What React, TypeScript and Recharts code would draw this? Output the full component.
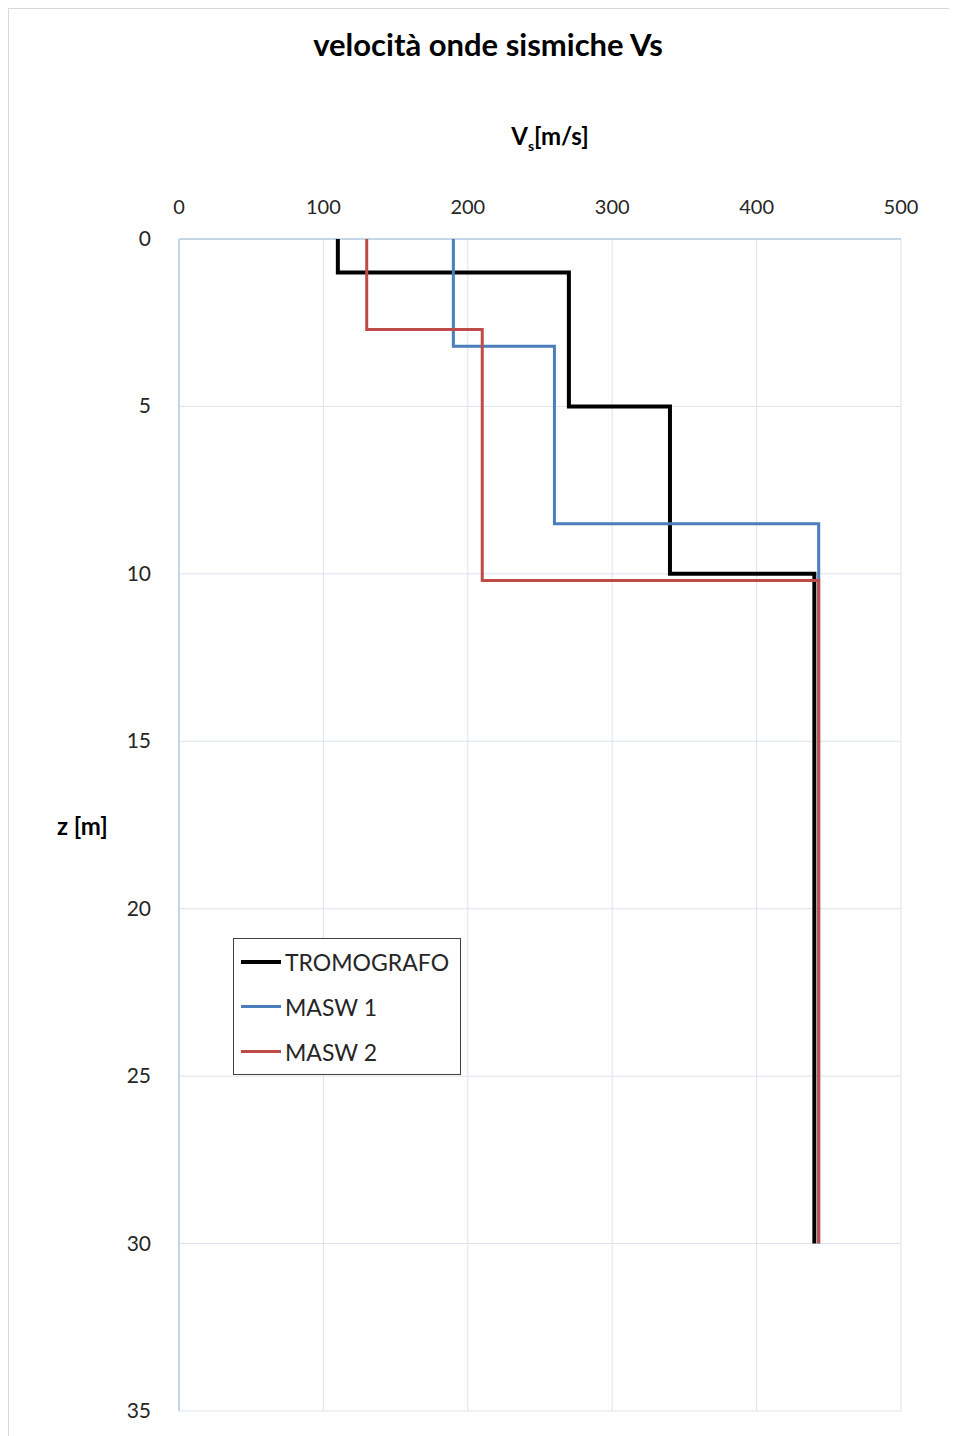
import React from 'react'
import { CartesianGrid, Legend, Scatter, ScatterChart, XAxis, YAxis } from 'recharts'

// profili Vs (velocità m/s, profondità m)
const tromografoVs = [110, 110, 270, 270, 340, 340, 440, 440]
const tromografoZ = [0, 1, 1, 5, 5, 10, 10, 30]
const masw1Vs = [190, 190, 260, 260, 443, 443]
const masw1Z = [0, 3.2, 3.2, 8.5, 8.5, 30]
const masw2Vs = [130, 130, 210, 210, 443, 443]
const masw2Z = [0, 2.7, 2.7, 10.2, 10.2, 30]

const xTicks = [0, 100, 200, 300, 400, 500]
const yTicks = [0, 5, 10, 15, 20, 25, 30, 35]

const toPoints = (vs: number[], z: number[]) => vs.map((v, i) => ({ v, z: z[i] }))

const SERIES = [
  { name: 'TROMOGRAFO', color: '#000000', width: 4, data: toPoints(tromografoVs, tromografoZ) },
  { name: 'MASW 1', color: '#4a7ebb', width: 3, data: toPoints(masw1Vs, masw1Z) },
  { name: 'MASW 2', color: '#be4b48', width: 3, data: toPoints(masw2Vs, masw2Z) },
]

const FONT = 'Lato, "Open Sans", sans-serif'
const TEXT = '#262626'

function TopTick({ x, y, payload }: any) {
  return (
    <text x={x} y={y} dy={-17} textAnchor="middle" fontSize={20} fill={TEXT} fontFamily={FONT}>
      {payload.value}
    </text>
  )
}

function LeftTick({ x, y, payload }: any) {
  return (
    <text x={x} y={y} dx={-20} dy={7} textAnchor="end" fontSize={21} fill={TEXT} fontFamily={FONT}>
      {payload.value}
    </text>
  )
}

function LegendBox() {
  return (
    <div
      style={{
        width: 228,
        height: 137,
        border: '1px solid #404040',
        background: '#fff',
        fontFamily: FONT,
        fontSize: 23,
        color: TEXT,
        boxSizing: 'border-box',
        textAlign: 'left',
      }}
    >
      {SERIES.map((s) => (
        <div key={s.name} style={{ display: 'flex', alignItems: 'center', height: 45, paddingLeft: 7 }}>
          <span style={{ display: 'inline-block', width: 40, height: s.width, background: s.color, marginRight: 4 }} />
          <span>{s.name}</span>
        </div>
      ))}
    </div>
  )
}

export default function App() {
  return (
    <div
      style={{
        position: 'relative',
        width: 949,
        height: 1428,
        borderLeft: '1px solid #d9d9d9',
        borderTop: '1px solid #d9d9d9',
        boxSizing: 'border-box',
        background: '#fff',
      }}
    >
      <div
        style={{
          position: 'absolute',
          top: 16,
          left: 0,
          width: 958,
          textAlign: 'center',
          fontFamily: FONT,
          fontWeight: 700,
          fontSize: 31,
          color: '#000',
        }}
      >
        velocità onde sismiche Vs
      </div>
      <div
        style={{
          position: 'absolute',
          top: 112,
          left: 0,
          width: 1082,
          textAlign: 'center',
          fontFamily: FONT,
          fontWeight: 700,
          fontSize: 24,
          color: '#000',
        }}
      >
        V<sub style={{ fontSize: 14 }}>s</sub>[m/s]
      </div>
      <div
        style={{
          position: 'absolute',
          top: 802,
          left: 48,
          fontFamily: FONT,
          fontWeight: 700,
          fontSize: 24,
          color: '#000',
        }}
      >
        z [m]
      </div>
      <ScatterChart width={949} height={1428} margin={{ top: 190, right: 57, bottom: 26, left: 110 }}>
        <CartesianGrid stroke="#dce3ee" strokeWidth={1} />
        <XAxis
          type="number"
          dataKey="v"
          orientation="top"
          domain={[0, 500]}
          ticks={xTicks}
          height={40}
          tickLine={false}
          axisLine={{ stroke: '#b9cde5', strokeWidth: 1.5 }}
          tick={<TopTick />}
          interval={0}
        />
        <YAxis
          type="number"
          dataKey="z"
          reversed
          domain={[0, 35]}
          ticks={yTicks}
          width={60}
          tickLine={false}
          axisLine={{ stroke: '#b9cde5', strokeWidth: 1.5 }}
          tick={<LeftTick />}
          interval={0}
        />
        <Legend
          layout="horizontal"
          align="center"
          verticalAlign="middle"
          content={<LegendBox />}
          wrapperStyle={{ position: 'absolute', left: 224, top: 929, width: 'auto', height: 'auto' }}
        />
        {SERIES.map((s) => (
          <Scatter
            key={s.name}
            name={s.name}
            data={s.data}
            line={{ stroke: s.color, strokeWidth: s.width, strokeLinejoin: 'miter' }}
            lineType="joint"
            shape={() => <g />}
            isAnimationActive={false}
          />
        ))}
      </ScatterChart>
    </div>
  )
}
